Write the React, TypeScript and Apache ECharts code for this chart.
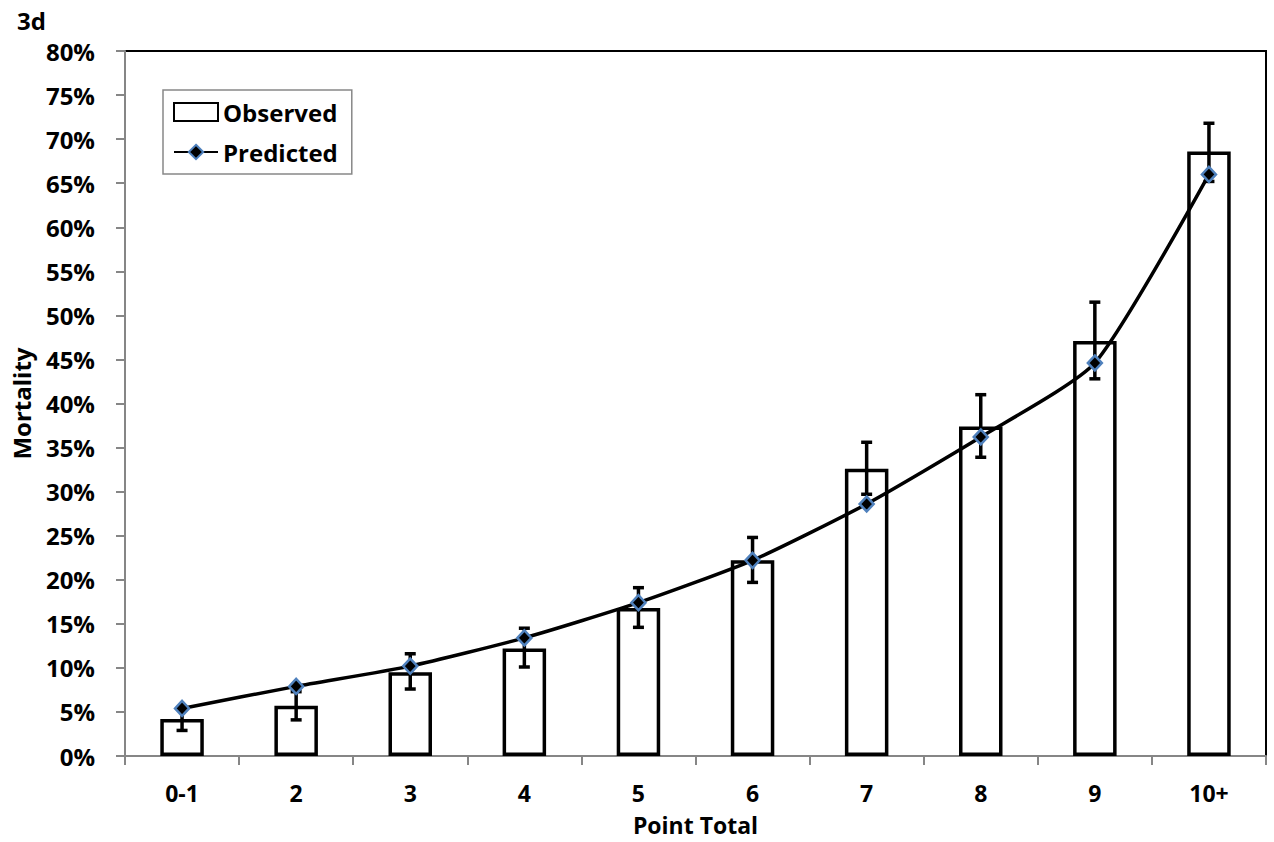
import React, { useEffect, useRef } from "react";
import * as echarts from "echarts";

const categories = ["0-1", "2", "3", "4", "5", "6", "7", "8", "9", "10+"];
const observed = [4.2, 5.7, 9.5, 12.2, 16.8, 22.2, 32.6, 37.4, 47.1, 68.6];
const predicted = [5.4, 7.9, 10.2, 13.4, 17.4, 22.2, 28.6, 36.2, 44.6, 66.0];
const errLow = [2.9, 4.1, 7.6, 10.1, 14.6, 19.7, 29.7, 33.9, 42.8, 65.2];
const errHigh = [5.5, 7.3, 11.6, 14.5, 19.1, 24.8, 35.6, 41.0, 51.5, 71.8];
const yTicks = { min: 0, max: 80, interval: 5 };

const FONT = "'Open Sans', 'Noto Sans', sans-serif";
const FS = 24;

export default function App() {
  const ref = useRef<HTMLDivElement>(null);
  useEffect(() => {
    if (!ref.current) return;
    const chart = echarts.init(ref.current, null, { renderer: "svg" });
    const errData = categories.map((_, i) => [i, errLow[i], errHigh[i]]);
    chart.setOption({
      animation: false,
      backgroundColor: "#fff",
      textStyle: { fontFamily: FONT, fontWeight: "bold", color: "#000" },
      title: {
        text: "3d",
        left: 12,
        top: 3,
        textStyle: { fontFamily: FONT, fontWeight: "bold", fontSize: FS, color: "#000" },
      },
      grid: {
        left: 125,
        right: 8,
        top: 51,
        bottom: 86,
        show: true,
        borderColor: "#000",
        borderWidth: 2,
        backgroundColor: "transparent",
      },
      legend: {
        orient: "vertical",
        left: 163,
        top: 90,
        padding: [10, 14, 10, 10],
        itemGap: 16,
        itemWidth: 44,
        itemHeight: 18,
        borderColor: "#888",
        borderWidth: 1.5,
        backgroundColor: "#fff",
        textStyle: { fontFamily: FONT, fontWeight: "bold", fontSize: FS, color: "#000" },
        data: [{ name: "Observed", icon: "rect" }, { name: "Predicted" }],
      },
      xAxis: {
        type: "category",
        data: categories,
        name: "Point Total",
        nameLocation: "middle",
        nameGap: 57,
        nameTextStyle: { fontFamily: FONT, fontWeight: "bold", fontSize: 23, color: "#000" },
        axisLine: { lineStyle: { color: "#868686", width: 2 } },
        axisTick: { show: true, length: 9, lineStyle: { color: "#868686", width: 2 } },
        axisLabel: { fontFamily: FONT, fontWeight: "bold", fontSize: 23, color: "#000", margin: 25 },
        splitLine: { show: false },
      },
      yAxis: {
        type: "value",
        min: yTicks.min,
        max: yTicks.max,
        interval: yTicks.interval,
        name: "Mortality",
        nameLocation: "middle",
        nameGap: 92,
        nameTextStyle: { fontFamily: FONT, fontWeight: "bold", fontSize: FS, color: "#000" },
        axisLine: { show: true, lineStyle: { color: "#868686", width: 2 } },
        axisTick: { show: true, length: 9, lineStyle: { color: "#868686", width: 2 } },
        axisLabel: { fontFamily: FONT, fontWeight: "bold", fontSize: FS, color: "#000", margin: 30, formatter: "{value}%" },
        splitLine: { show: false },
      },
      series: [
        {
          name: "Observed",
          type: "bar",
          data: observed,
          barWidth: 43.5,
          z: 2,
          itemStyle: { color: "#fff", borderColor: "#000", borderWidth: 3.5 },
        },
        {
          name: "Error",
          type: "custom",
          z: 3,
          data: errData,
          encode: { x: 0, y: [1, 2] },
          renderItem: (params: any, api: any) => {
            const i = api.value(0);
            const lo = api.coord([i, api.value(1)]);
            const hi = api.coord([i, api.value(2)]);
            const half = 5.5;
            const style = { stroke: "#000", lineWidth: 3.5 };
            return {
              type: "group",
              children: [
                { type: "line", shape: { x1: lo[0], y1: lo[1], x2: hi[0], y2: hi[1] }, style },
                { type: "line", shape: { x1: lo[0] - half, y1: lo[1], x2: lo[0] + half, y2: lo[1] }, style },
                { type: "line", shape: { x1: hi[0] - half, y1: hi[1], x2: hi[0] + half, y2: hi[1] }, style },
              ],
            };
          },
        },
        {
          name: "Predicted",
          type: "line",
          data: predicted,
          z: 4,
          smooth: 0.2,
          symbol: "diamond",
          symbolSize: [14, 15],
          lineStyle: { color: "#000", width: 3.5 },
          itemStyle: { color: "#000", borderColor: "#4F81BD", borderWidth: 2.5 },
        },
      ],
    });
    return () => chart.dispose();
  }, []);
  return (
    <div
      ref={ref}
      style={{ position: "fixed", left: 0, top: 0, width: 1274, height: 842, background: "#fff" }}
    />
  );
}
